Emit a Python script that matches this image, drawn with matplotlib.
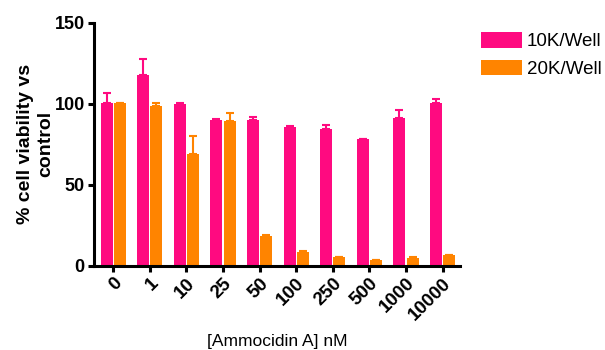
import numpy as np
from matplotlib import pyplot as plt

# dosis y viabilidad
doses = ['0', '1', '10', '25', '50', '100', '250', '500', '1000', '10000']
well10k = [100.5, 118, 99.6, 90, 90, 85.6, 84.6, 78.3, 91.4, 100.4]
well10k_err = [6.1, 9.4, 1.0, 0.3, 1.5, 0.5, 2.3, 0, 4.9, 2.4]
well20k = [100.2, 98.8, 68.8, 89.3, 18.4, 8.4, 5.3, 3.5, 4.9, 6.3]
well20k_err = [0, 1.6, 11.3, 5.1, 0.3, 0.8, 0.3, 0.2, 0.3, 0]
labels = ['10K/Well', '20K/Well']

pink = '#FF0A80'
orange = '#FF8400'

plt.rcParams['font.family'] = ['Liberation Sans', 'DejaVu Sans']

fig = plt.figure(figsize=(6.05, 3.5), dpi=100)
ax = fig.add_axes([0.155, 0.241, 0.605, 0.694])

x = np.arange(len(doses))
w = 0.33
off = 0.18
ax.bar(x - off, well10k, w, color=pink, label=labels[0])
ax.bar(x + off, well20k, w, color=orange, label=labels[1])
zeros = np.zeros(len(doses))
ax.errorbar(x - off, well10k, yerr=[zeros, well10k_err], fmt='none',
            ecolor=pink, elinewidth=1.5, capsize=3, capthick=1.5)
ax.errorbar(x + off, well20k, yerr=[zeros, well20k_err], fmt='none',
            ecolor=orange, elinewidth=1.5, capsize=3, capthick=1.5)

ax.set_xlim(-0.53, 9.47)
ax.set_ylim(0, 150)
ax.set_yticks([0, 50, 100, 150])
ax.set_xticks(x)
ax.set_xticklabels(doses, rotation=45, ha='right', rotation_mode='anchor',
                   fontsize=13.5, fontweight='bold')
for t in ax.get_yticklabels():
    t.set_fontsize(13)
    t.set_fontweight('bold')

for s in ['top', 'right']:
    ax.spines[s].set_visible(False)
for s in ['left', 'bottom']:
    ax.spines[s].set_linewidth(2.2)
ax.tick_params(axis='both', length=4.5, width=2.2, pad=2)

ax.set_ylabel('% cell viability vs\ncontrol', fontsize=14, fontweight='bold',
              labelpad=0, linespacing=1.3)
ax.set_xlabel('[Ammocidin A] nM', fontsize=12.5, labelpad=8)

fig.legend(loc='upper left', bbox_to_anchor=(0.795, 0.908), frameon=False,
           fontsize=13.5, handlelength=2.2, handleheight=0.9,
           handletextpad=0.25, labelspacing=0.5, borderpad=0, borderaxespad=0)

fig.savefig('out.png', dpi=100)
